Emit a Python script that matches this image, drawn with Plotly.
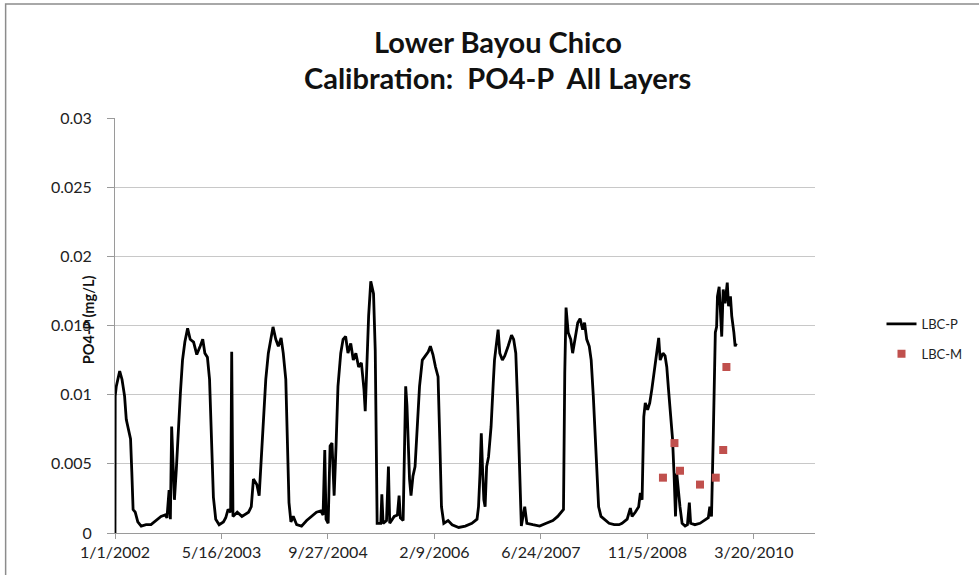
import pandas as pd
import plotly.graph_objects as go

# ---- data ----
start_date = "2002-01-01"
# days since 1/1/2002 for modeled series LBC-P
p_days = [0, 1, 6, 22, 33, 45, 53, 64, 73, 79, 85, 95, 107, 123, 146, 169, 193, 216, 235, 244,
          254, 260, 266, 272, 279, 288, 297, 307, 317, 328, 341, 353, 369, 384, 400, 412, 422,
          434, 444, 453, 462, 473, 489, 509, 520, 531, 543, 548, 554, 574, 596, 627, 640, 650,
          666, 677, 686, 697, 708, 720, 733, 742, 755, 767, 780, 790, 802, 809, 817, 826, 837,
          853, 876, 900, 923, 946, 966, 977, 985, 991, 1001, 1010, 1019, 1029, 1038, 1047, 1060,
          1071, 1083, 1094, 1107, 1119, 1131, 1144, 1157, 1169, 1175, 1191, 1201, 1214, 1222,
          1227, 1231, 1248, 1253, 1259, 1275, 1284, 1290, 1311, 1326, 1334, 1340, 1353, 1359,
          1365, 1371, 1377, 1383, 1390, 1399, 1409, 1419, 1430, 1443, 1458, 1471, 1481, 1493,
          1505, 1517, 1525, 1533, 1544, 1564, 1583, 1614, 1645, 1676, 1700, 1707, 1714, 1720,
          1726, 1732, 1738, 1745, 1754, 1766, 1776, 1782, 1799, 1807, 1819, 1830, 1846, 1862,
          1872, 1882, 1891, 1900, 1908, 1924, 1934, 1962, 1994, 2025, 2056, 2079, 2095, 2106,
          2112, 2118, 2128, 2140, 2149, 2162, 2173, 2184, 2196, 2205, 2215, 2227, 2236, 2246,
          2258, 2271, 2282, 2297, 2320, 2344, 2367, 2381, 2405, 2420, 2428, 2443, 2459, 2467,
          2475, 2483, 2490, 2501, 2511, 2521, 2532, 2541, 2553, 2560, 2573, 2583, 2591, 2599,
          2607, 2618, 2625, 2632, 2638, 2646, 2653, 2663, 2677, 2688, 2697, 2703, 2723, 2747,
          2770, 2786, 2793, 2801, 2809, 2814, 2819, 2825, 2829, 2837, 2843, 2849, 2856, 2865,
          2875, 2881, 2890, 2896, 2906, 2912, 2918]
p_vals = [0.0, 0.0099, 0.0106, 0.0117, 0.0111, 0.0099, 0.0082, 0.0073, 0.0068, 0.0044, 0.0017,
          0.0015, 0.0008, 0.0005, 0.0006, 0.0006, 0.0009, 0.0012, 0.0013, 0.0011, 0.0031, 0.0010,
          0.0077, 0.0044, 0.0024, 0.0046, 0.0077, 0.0101, 0.0125, 0.0138, 0.0148, 0.0140, 0.0138,
          0.0129, 0.0135, 0.0140, 0.0130, 0.0127, 0.0111, 0.0068, 0.0026, 0.0010, 0.0006, 0.0008,
          0.0011, 0.0017, 0.0015, 0.0131, 0.0012, 0.0015, 0.0012, 0.0015, 0.0019, 0.0039, 0.0035,
          0.0027, 0.0053, 0.0087, 0.0111, 0.0130, 0.0142, 0.0149, 0.0140, 0.0135, 0.0141, 0.0130,
          0.0111, 0.0068, 0.0022, 0.0008, 0.0012, 0.0006, 0.0005, 0.0009, 0.0012, 0.0015, 0.0016,
          0.0013, 0.0060, 0.0010, 0.0007, 0.0063, 0.0065, 0.0027, 0.0063, 0.0106, 0.0130, 0.0140,
          0.0142, 0.0130, 0.0137, 0.0125, 0.0130, 0.0120, 0.0123, 0.0104, 0.0088, 0.0157, 0.0182,
          0.0173, 0.0132, 0.0060, 0.0007, 0.0007, 0.0028, 0.0007, 0.0009, 0.0048, 0.0007, 0.0012,
          0.0013, 0.0027, 0.0011, 0.0009, 0.0077, 0.0106, 0.0092, 0.0068, 0.0039, 0.0027, 0.0041,
          0.0048, 0.0077, 0.0106, 0.0125, 0.0128, 0.0131, 0.0135, 0.0129, 0.0120, 0.0113, 0.0068,
          0.0019, 0.0007, 0.0009, 0.0006, 0.0004, 0.0005, 0.0007, 0.0010, 0.0019, 0.0043, 0.0072,
          0.0046, 0.0024, 0.0019, 0.0048, 0.0055, 0.0077, 0.0108, 0.0125, 0.0147, 0.0130, 0.0125,
          0.0128, 0.0135, 0.0143, 0.0140, 0.0130, 0.0092, 0.0043, 0.0005, 0.0019, 0.0007, 0.0006,
          0.0005, 0.0007, 0.0009, 0.0012, 0.0015, 0.0017, 0.0116, 0.0163, 0.0145, 0.0140, 0.0130,
          0.0142, 0.0152, 0.0155, 0.0147, 0.0152, 0.0140, 0.0135, 0.0125, 0.0099, 0.0055, 0.0019,
          0.0012, 0.0010, 0.0007, 0.0006, 0.0006, 0.0007, 0.0010, 0.0018, 0.0012, 0.0015, 0.0019,
          0.0029, 0.0024, 0.0084, 0.0094, 0.0089, 0.0094, 0.0104, 0.0116, 0.0125, 0.0141, 0.0125,
          0.0130, 0.0128, 0.0120, 0.0104, 0.0087, 0.0068, 0.0043, 0.0012, 0.0043, 0.0029, 0.0019,
          0.0007, 0.0005, 0.0006, 0.0022, 0.0007, 0.0006, 0.0007, 0.0009, 0.0011, 0.0019, 0.0012,
          0.0068, 0.0125, 0.0145, 0.0149, 0.0171, 0.0178, 0.0164, 0.0142, 0.0176, 0.0166, 0.0181,
          0.0164, 0.0171, 0.0157, 0.0145, 0.0135, 0.0137]

# measured series LBC-M
m_dates = ["2009-01-17", "2009-03-12", "2009-04-07", "2009-07-10", "2009-09-22", "2009-10-27", "2009-11-11"]
m_vals = [0.0040, 0.0065, 0.0045, 0.0035, 0.0040, 0.0060, 0.0120]

x_tick_vals = ["2002-01-01", "2003-05-16", "2004-09-27", "2006-02-09", "2007-06-24", "2008-11-05", "2010-03-20"]
x_tick_text = ["1/1/2002", "5/16/2003", "9/27/2004", "2/9/2006", "6/24/2007", "11/5/2008", "3/20/2010"]
y_tick_vals = [0, 0.005, 0.01, 0.015, 0.02, 0.025, 0.03]
y_tick_text = ["0", "0.005", "0.01", "0.015", "0.02", "0.025", "0.03"]

title_lines = ["Lower Bayou Chico", "Calibration:  PO4-P  All Layers"]
y_title = "PO4-P (mg/L)"

p_dates = pd.Timestamp(start_date) + pd.to_timedelta(p_days, unit="D")

FONT = "Lato, 'Open Sans', sans-serif"

# plot area in page pixels: x 115..819, y 118..533
PL, PR, PT, PB = 115, 819, 118, 533
def px(x):
    return (x - PL) / (PR - PL)
def py(y):
    return (PB - y) / (PB - PT)

fig = go.Figure()
fig.add_trace(go.Scatter(x=p_dates, y=p_vals, mode="lines", name="LBC-P",
                         line=dict(color="black", width=2.8), legend="legend"))
fig.add_trace(go.Scatter(x=m_dates, y=m_vals, mode="markers", name="LBC-M",
                         marker=dict(symbol="square", color="#c0504d", size=8), legend="legend2"))

fig.update_layout(
    width=979, height=575,
    margin=dict(l=PL, r=979 - PR, t=PT, b=575 - PB),
    paper_bgcolor="white", plot_bgcolor="white",
    font=dict(family=FONT, color="#222"),
    xaxis=dict(type="date", range=["2002-01-01", "2011-01-01"],
               tickvals=x_tick_vals, ticktext=x_tick_text,
               showgrid=False, showline=True, linecolor="#9a9a9a", linewidth=1,
               ticks="outside", ticklen=5, tickcolor="#9a9a9a",
               tickfont=dict(size=16, color="#222"), zeroline=False),
    yaxis=dict(range=[0, 0.03], tickvals=y_tick_vals, ticktext=y_tick_text,
               showgrid=True, gridcolor="#c8c8c8", gridwidth=1,
               showline=True, linecolor="#9a9a9a", linewidth=1,
               ticks="outside", ticklen=7, tickcolor="#9a9a9a", ticklabelstandoff=12,
               tickfont=dict(size=16, color="#222"), zeroline=False),
    legend=dict(x=1.095, y=0.54, xanchor="left", yanchor="top",
                font=dict(size=13, color="#222"), bgcolor="rgba(0,0,0,0)"),
    legend2=dict(x=1.095, y=0.468, xanchor="left", yanchor="top",
                 font=dict(size=13, color="#222"), bgcolor="rgba(0,0,0,0)"),
    showlegend=True,
    annotations=[
        dict(text="<b>%s</b>" % title_lines[0], xref="paper", yref="paper",
             x=px(500), y=py(42), xanchor="center", yanchor="middle", showarrow=False,
             font=dict(size=29, color="#111")),
        dict(text="<b>%s</b>" % title_lines[1], xref="paper", yref="paper",
             x=px(500), y=py(77), xanchor="center", yanchor="middle", showarrow=False,
             font=dict(size=29, color="#111")),
        dict(text="<b>%s</b>" % y_title, textangle=-90, xref="paper", yref="paper",
             x=px(88), y=py(320), xanchor="center", yanchor="middle",
             showarrow=False, font=dict(size=14.5, color="#111")),
    ],
    shapes=[dict(type="rect", xref="paper", yref="paper",
                 x0=px(5), x1=px(1010), y0=py(600), y1=py(4),
                 line=dict(color="#8c8c8c", width=1.5), fillcolor="rgba(0,0,0,0)", layer="below")],
)

# remove the default 8px page margin so the figure sits at the window's top-left corner
fig.write_html("out.html", config={"displayModeBar": False},
               post_script="document.body.style.margin='0px';")
